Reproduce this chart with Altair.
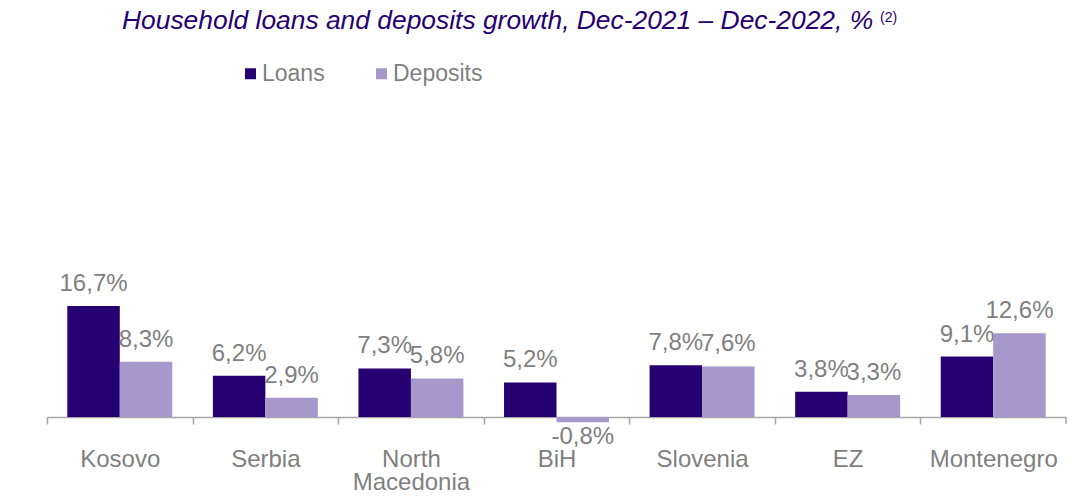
import altair as alt
import pandas as pd

countries = ["Kosovo", "Serbia", "North Macedonia", "BiH", "Slovenia", "EZ", "Montenegro"]
loans = [16.7, 6.2, 7.3, 5.2, 7.8, 3.8, 9.1]
deposits = [8.3, 2.9, 5.8, -0.8, 7.6, 3.3, 12.6]
series = ["Loans", "Deposits"]
colors = ["#260072", "#A698CA"]
title_main = "Household loans and deposits growth, Dec-2021 \u2013 Dec-2022, %"
title_note = "(2)"

rows = []
for c, l, d in zip(countries, loans, deposits):
    for s, v in (("Loans", l), ("Deposits", d)):
        rows.append({"country": c, "series": s, "value": v,
                     "label": f"{v:.1f}%".replace(".", ",")})
df = pd.DataFrame(rows)

FONT = "Liberation Sans"
GRAY = "#7F7F7F"
AXIS_GRAY = "#A6A6A6"
W, H = 1019, 309

x_enc = alt.X("country:N", sort=countries,
              scale=alt.Scale(paddingInner=0, paddingOuter=0),
              axis=alt.Axis(title=None, labelAngle=0, labelFont=FONT, labelFontSize=24,
                            labelColor=GRAY, domainColor=AXIS_GRAY, tickColor=AXIS_GRAY,
                            tickSize=7, domainWidth=1.5, tickWidth=1.5,
                            tickOffset=-W / 14, labelOffset=W / 14,
                            labelPadding=35, labelLineHeight=23, labelBaseline="middle",
                            labelExpr="datum.label == 'North Macedonia' ? ['North', 'Macedonia'] : datum.label"))
xoff = alt.XOffset("series:N", sort=series,
                   scale=alt.Scale(domain=series, paddingInner=0, paddingOuter=0.387))
y_enc = alt.Y("value:Q", scale=alt.Scale(domain=[0, 46.5], nice=False, zero=True), axis=None)

base = alt.Chart(df).encode(x=x_enc, xOffset=xoff)

bars = base.mark_bar(clip=False).encode(
    y=y_enc,
    color=alt.Color("series:N", sort=series,
                    scale=alt.Scale(domain=series, range=colors),
                    legend=alt.Legend(title=None, orient="none", legendX=192, legendY=-46,
                                      direction="horizontal", symbolType="square",
                                      symbolSize=121, symbolStrokeWidth=0, labelOffset=0,
                                      labelFont=FONT, labelFontSize=23, labelColor=GRAY,
                                      columnPadding=45, padding=0)),
)

pos_labels = base.transform_filter("datum.value >= 0").mark_text(
    font=FONT, fontSize=24, color=GRAY, baseline="middle", dy=-22
).encode(y=y_enc, text="label:N")

neg_labels = base.transform_filter("datum.value < 0").mark_text(
    font=FONT, fontSize=24, color=GRAY, baseline="middle", dy=15
).encode(y=y_enc, text="label:N")

end_tick = alt.Chart(pd.DataFrame({"t": [0]})).mark_rule(color=AXIS_GRAY, strokeWidth=1.5).encode(
    x=alt.value(W), y=alt.value(H), y2=alt.value(H + 7))

title = alt.Chart(pd.DataFrame({"t": [title_main]})).mark_text(
    font=FONT, fontSize=26.4, fontStyle="italic", color="#260072", align="left",
    baseline="alphabetic").encode(text="t:N", x=alt.value(75), y=alt.value(-79))

note = alt.Chart(pd.DataFrame({"t": [title_note]})).mark_text(
    font=FONT, fontSize=14, color="#260072", align="left",
    baseline="alphabetic").encode(text="t:N", x=alt.value(833), y=alt.value(-86))

chart = alt.layer(bars, pos_labels, neg_labels, end_tick, title, note).properties(
    width=W, height=H,
    autosize=alt.AutoSizeParams(type="none"),
    padding={"left": 39, "top": 100, "right": 3, "bottom": 73},
).configure_view(stroke=None)

chart.save("out.html", embed_options={"renderer": "svg", "actions": False})
